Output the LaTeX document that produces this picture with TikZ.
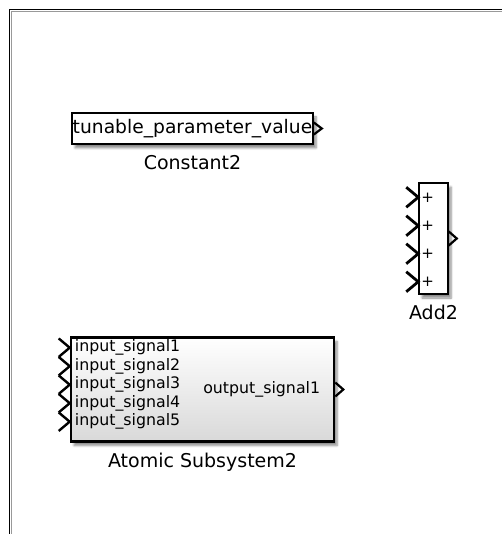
\documentclass[tikz,border=0pt]{standalone}
\usepackage{fontspec}
\setmainfont{DejaVu Sans}
\usetikzlibrary{calc,shadows.blur}
\tikzset{
  blk/.style={draw=black, fill=white, line width=1.5pt, inner sep=0pt,
    blur shadow={shadow xshift=3pt, shadow yshift=-4pt, shadow blur steps=6, shadow opacity=45}},
  subblk/.style={blk, line width=2.6pt, top color=white, bottom color=black!15},
  blklabel/.style={font=\fontsize{19}{20}\selectfont, inner sep=0pt, anchor=north},
  portlbl/.style={font=\fontsize{15.8}{17}\selectfont, inner sep=0pt},
  inport/.style={line width=2.8pt, line join=miter},
  outport/.style={line width=2.2pt, line join=miter},
  frameline/.style={line width=1.7pt, draw=black}
}
\begin{document}
\begin{tikzpicture}[x=1pt,y=-1pt]
\useasboundingbox (0,0) rectangle (502,534);
% window frame
\draw[line width=1pt, draw=black!40] (11.2,534) -- (11.2,11.2) -- (502,11.2);
\draw[frameline] (9.5,534) -- (9.5,9.5) -- (502,9.5);

% Constant2
\node[blk, minimum width=241pt, minimum height=31pt,
      font=\fontsize{18.7}{20}\selectfont] (const) at (192.5,128.5) {tunable\_parameter\_value};
\node[blklabel] (constlbl) at ($(const.south)+(0,10)$) {Constant2};
\coordinate (constout) at ($(const.east)+(8,0)$);
\draw[outport] ($(const.east)+(0,-6)$) -- (constout) -- ($(const.east)+(0,6)$);

% Add2
\node[blk, minimum width=29pt, minimum height=111pt] (add) at (433.5,238.5) {};
\foreach \i/\dy in {1/15,2/43.5,3/71.5,4/99.5}{
  \coordinate (addin\i) at ($(add.north west)+(0,\dy)$);
  \draw[inport] ($(addin\i)+(-12,-10)$) -- (addin\i) -- ($(addin\i)+(-12,10)$);
  \node[font=\fontsize{15}{16}\selectfont, inner sep=0pt] (plus\i) at ($(addin\i)+(9.5,0.5)$) {+};
}
\coordinate (addout) at ($(add.east)+(8,0)$);
\draw[outport] ($(add.east)+(0,-7)$) -- (addout) -- ($(add.east)+(0,7)$);
\node[blklabel] (addlbl) at ($(add.south)+(0,10)$) {Add2};

% Atomic Subsystem2
\node[subblk, minimum width=263pt, minimum height=104pt] (sub) at (202.5,389.5) {};
\foreach \i/\dy in {1/11.5,2/30,3/48.5,4/67,5/85.5}{
  \coordinate (subin\i) at ($(sub.north west)+(0,\dy)$);
  \draw[inport, line width=2.4pt] ($(subin\i)+(-11,-9.25)$) -- (subin\i) -- ($(subin\i)+(-11,9.25)$);
  \node[portlbl, anchor=west] (sublbl\i) at ($(subin\i)+(5,0)$) {input\_signal\i};
}
\node[portlbl, anchor=east] (suboutlbl) at ($(sub.east)+(-15,0)$) {output\_signal1};
\coordinate (subout) at ($(sub.east)+(8,0)$);
\draw[outport] ($(sub.east)+(0,-7)$) -- (subout) -- ($(sub.east)+(0,7)$);
\node[blklabel] (sublbl) at ($(sub.south)+(0,10)$) {Atomic Subsystem2};
\end{tikzpicture}
\end{document}
